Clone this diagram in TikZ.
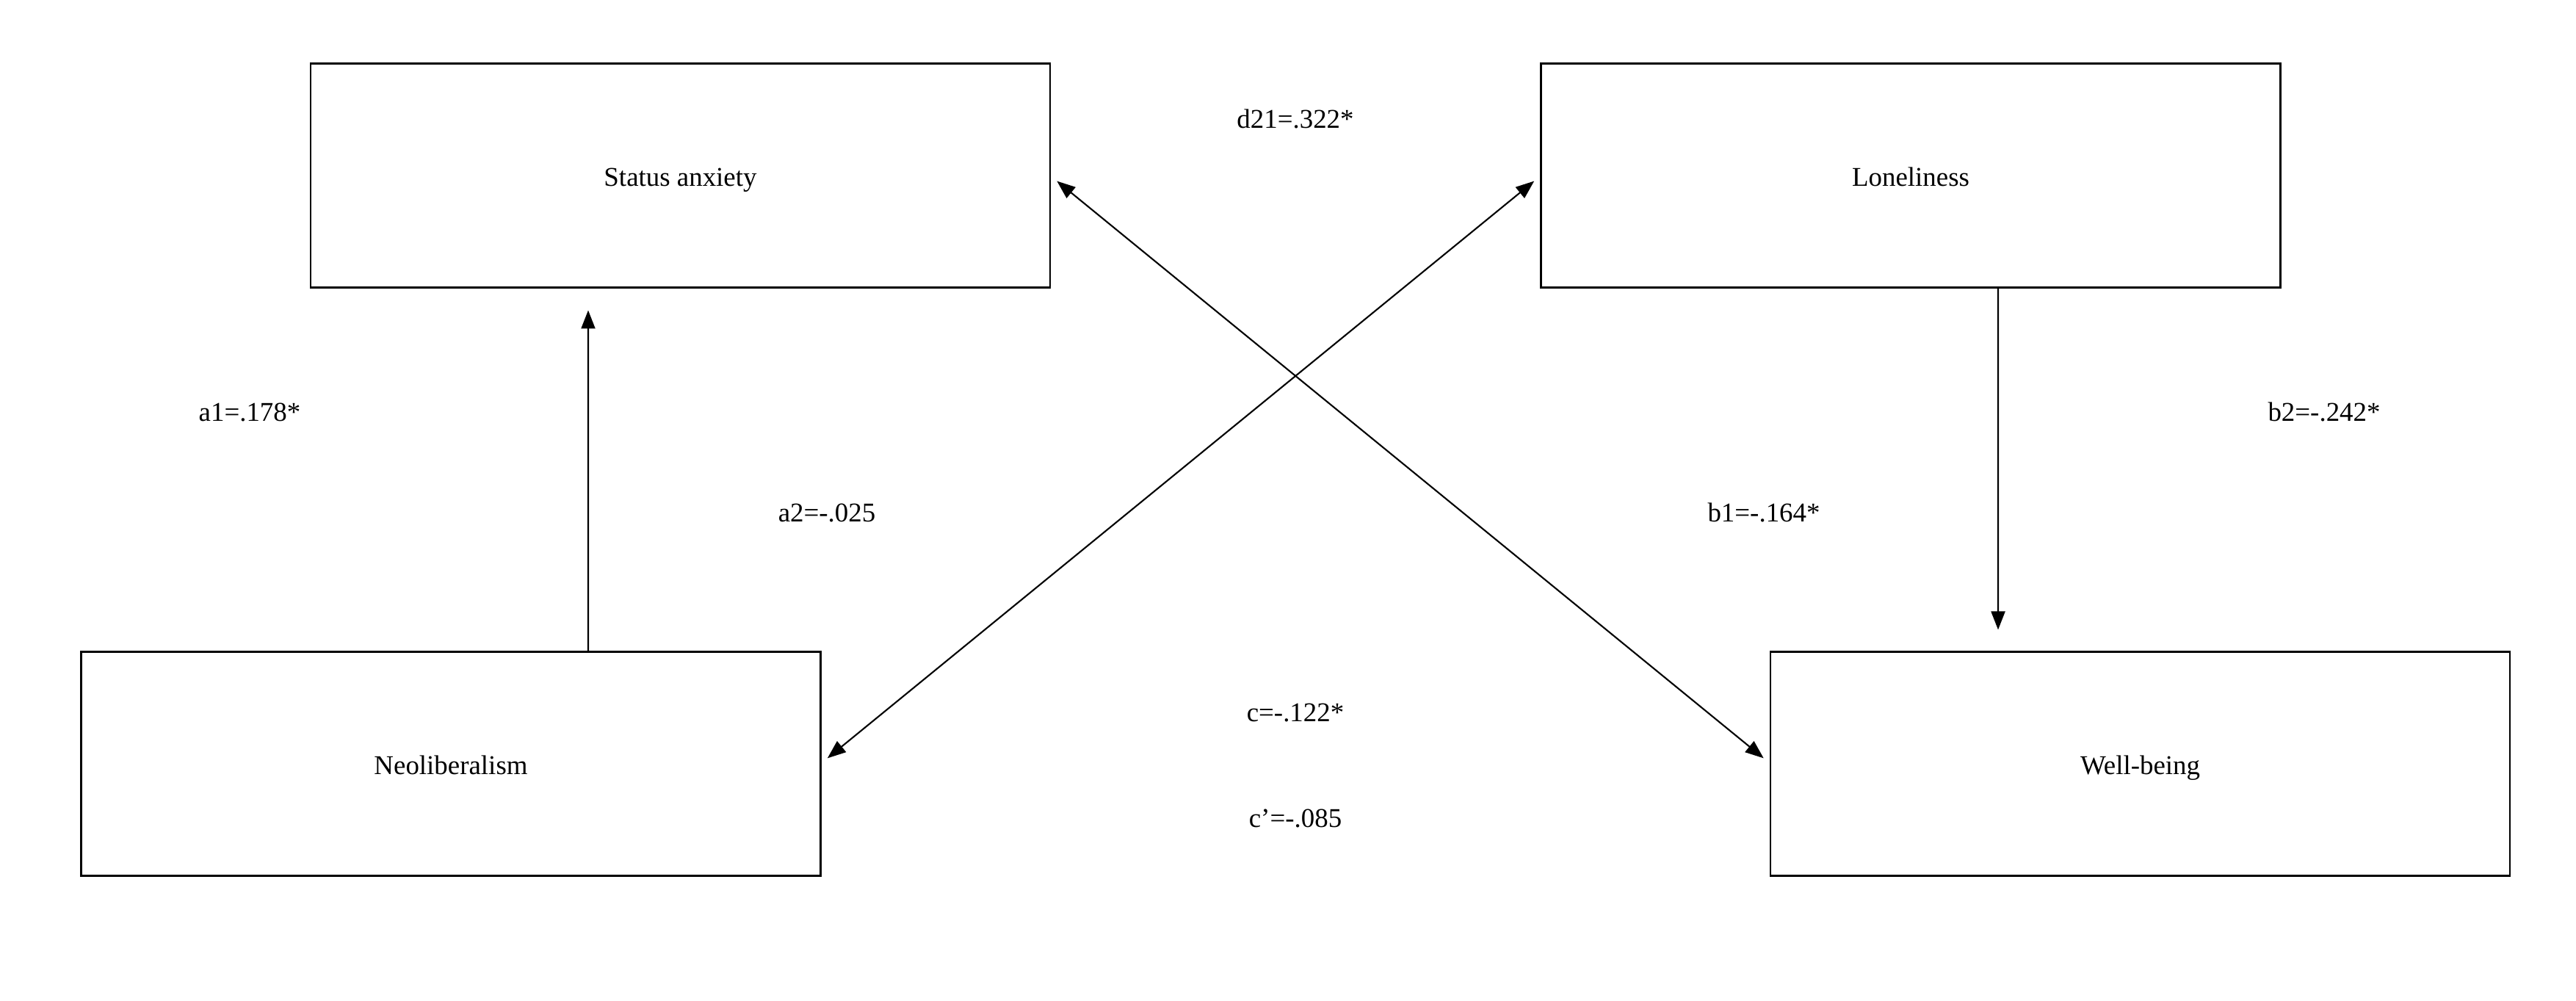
\documentclass[tikz,border=0pt]{standalone}
\usepackage{fontspec}
\setmainfont{Liberation Serif}
\usetikzlibrary{arrows.meta}
\tikzstyle{boite} = [rectangle, minimum width = 10.07cm, minimum height = 3.05cm, text centered, text height = 8.5pt, text depth = 0pt, draw = black, inner sep = 0pt, outer sep = 0pt]
\tikzstyle{coef} = [anchor = base, inner sep = 0pt]
\tikzset{>={Triangle[length=2.5mm, width=1.9mm]}}

\begin{document}
\begin{tikzpicture}[line width = 0.6pt, font = \fontsize{10.5}{12.6}\selectfont]
\useasboundingbox (0,0) rectangle (35.08,13.63);
\node (anx) [boite] at (9.265,11.24) {Status anxiety};
\node (lon) [boite] at (26.02,11.24) {Loneliness};
\node (neo) [boite] at (6.14,3.23) {Neoliberalism};
\node (wb) [boite] at (29.145,3.23) {Well-being};
\draw[->, shorten >= 3.1mm] ([xshift=1.87cm]neo.north) -- ([xshift=-1.255cm]anx.south);
\draw[->, shorten >= 3mm] ([xshift=1.19cm]lon.south) -- ([xshift=-1.935cm]wb.north);
\draw[<->, shorten <= 1.2mm, shorten >= 1.2mm] (anx.east) -- (wb.west);
\draw[<->, shorten <= 1.2mm, shorten >= 1.2mm] (neo.east) -- (lon.west);
\node (d21) [coef] at (17.64,11.88) {d21=.322*};
\node (a1) [coef] at (3.40,7.89) {a1=.178*};
\node (a2) [coef] at (11.26,6.52) {a2=-.025};
\node (b1) [coef] at (24.02,6.52) {b1=-.164*};
\node (b2) [coef] at (31.65,7.89) {b2=-.242*};
\node (c) [coef] at (17.64,3.80) {c=-.122*};
\node (cp) [coef] at (17.64,2.36) {c’=-.085};
\end{tikzpicture}
\end{document}
